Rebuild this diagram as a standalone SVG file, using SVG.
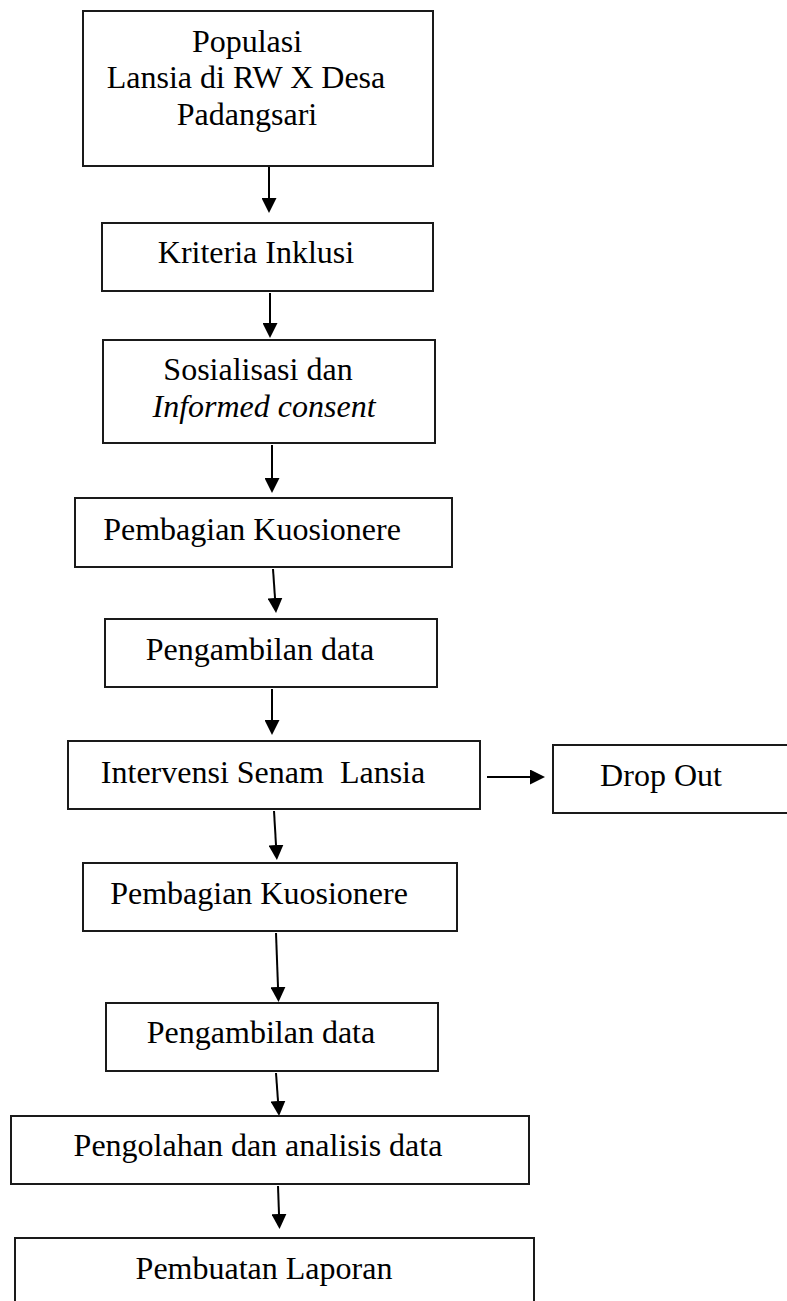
<svg xmlns="http://www.w3.org/2000/svg" width="787" height="1301" viewBox="0 0 787 1301">
<defs>
<style>
.box{fill:#fff;stroke:#1a1a1a;stroke-width:2}
.t{font-family:"Liberation Serif","Times New Roman",serif;font-size:32px;fill:#000;text-anchor:middle}
.it{font-style:italic}
.c{stroke:#000;stroke-width:2;fill:none}
</style>
<marker id="ah" viewBox="0 0 15 15" refX="0" refY="7.5" markerWidth="15" markerHeight="15" markerUnits="userSpaceOnUse" orient="auto">
<path d="M0,0 L15,7.5 L0,15 z" fill="#000"/>
</marker>
</defs>
<rect width="787" height="1301" fill="#fff"/>
<g id="connectors">
<line class="c" x1="269" y1="167" x2="269" y2="198" marker-end="url(#ah)"/>
<line class="c" x1="270" y1="293" x2="270" y2="323" marker-end="url(#ah)"/>
<line class="c" x1="272" y1="445" x2="272" y2="478" marker-end="url(#ah)"/>
<line class="c" x1="273" y1="569" x2="275" y2="598" marker-end="url(#ah)"/>
<line class="c" x1="272" y1="689" x2="272" y2="720" marker-end="url(#ah)"/>
<line class="c" x1="274" y1="811" x2="276" y2="845" marker-end="url(#ah)"/>
<line class="c" x1="276" y1="933" x2="278" y2="987" marker-end="url(#ah)"/>
<line class="c" x1="276" y1="1073" x2="278" y2="1101" marker-end="url(#ah)"/>
<line class="c" x1="278" y1="1186" x2="279" y2="1214" marker-end="url(#ah)"/>
<line class="c" x1="487" y1="777" x2="530" y2="777" marker-end="url(#ah)"/>
</g>
<g id="n1">
<rect class="box" x="83" y="11" width="350" height="155"/>
<text class="t" x="247" y="52">Populasi</text>
<text class="t" x="246" y="88">Lansia di RW X Desa</text>
<text class="t" x="247" y="125">Padangsari</text>
</g>
<g id="n2">
<rect class="box" x="102" y="223" width="331" height="68"/>
<text class="t" x="256" y="263">Kriteria Inklusi</text>
</g>
<g id="n3">
<rect class="box" x="103" y="340" width="332" height="103"/>
<text class="t" x="258" y="380">Sosialisasi dan</text>
<text class="t it" x="264" y="417">Informed consent</text>
</g>
<g id="n4">
<rect class="box" x="75" y="498" width="377" height="69"/>
<text class="t" x="252" y="540">Pembagian Kuosionere</text>
</g>
<g id="n5">
<rect class="box" x="105" y="619" width="332" height="68"/>
<text class="t" x="260" y="660">Pengambilan data</text>
</g>
<g id="n6">
<rect class="box" x="68" y="741" width="412" height="68"/>
<text class="t" x="263" y="783" xml:space="preserve" style="white-space:pre">Intervensi Senam  Lansia</text>
</g>
<g id="n7">
<rect class="box" x="553" y="745" width="240" height="68"/>
<text class="t" x="661" y="786">Drop Out</text>
</g>
<g id="n8">
<rect class="box" x="83" y="863" width="374" height="68"/>
<text class="t" x="259" y="904">Pembagian Kuosionere</text>
</g>
<g id="n9">
<rect class="box" x="106" y="1003" width="332" height="68"/>
<text class="t" x="261" y="1043">Pengambilan data</text>
</g>
<g id="n10">
<rect class="box" x="11" y="1116" width="518" height="68"/>
<text class="t" x="258" y="1156">Pengolahan dan analisis data</text>
</g>
<g id="n11">
<rect class="box" x="15" y="1238" width="519" height="70"/>
<text class="t" x="264" y="1279">Pembuatan Laporan</text>
</g>
</svg>
